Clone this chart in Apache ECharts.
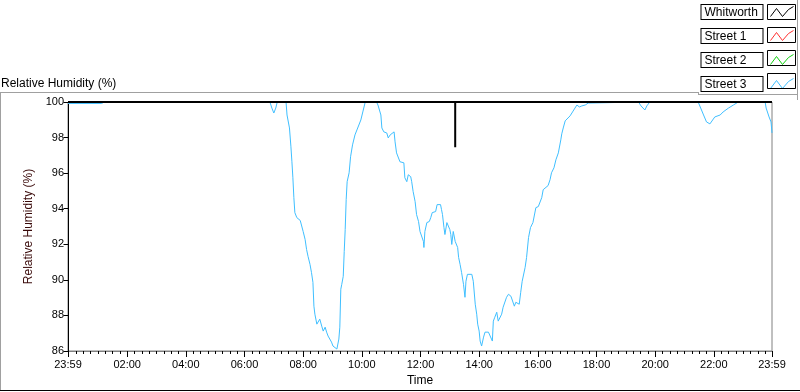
<!DOCTYPE html>
<html>
<head>
<meta charset="utf-8">
<script src="https://cdn.jsdelivr.net/npm/echarts@6/dist/echarts.min.js"></script>
<style>
  html, body { margin: 0; padding: 0; background: #fff; }
  #chart { width: 800px; height: 392px; }
</style>
</head>
<body>
<div id="chart"></div>
<script>
// first entry of every time list is 23:59 of the previous day
const seriesNames = ["Whitworth", "Street 1", "Street 2", "Street 3"];
const seriesColors = ["#000000", "#ff3030", "#10d010", "#3fbfff"];
const xTickLabels = ["23:59", "02:00", "04:00", "06:00", "08:00", "10:00", "12:00",
  "14:00", "16:00", "18:00", "20:00", "22:00", "23:59"];

const whitworthTime = ["23:59", "13:11", "13:11", "13:11", "13:11", "23:59"];
const whitworthRH = [100, 100, 97.45, 98.7, 100, 100];

const street1Time = [];
const street1RH = [];
const street2Time = [];
const street2RH = [];

const street3Time = ["23:59", "01:08", "01:13", "06:52", "06:56", "07:00", "07:04", "07:07",
  "07:25", "07:27", "07:32", "07:35", "07:37", "07:39", "07:41", "07:43", "07:47", "07:50",
  "07:54", "07:58", "08:00", "08:04", "08:07", "08:10", "08:14", "08:17", "08:20", "08:22",
  "08:24", "08:28", "08:30", "08:34", "08:38", "08:41", "08:45", "08:48", "08:51", "08:55",
  "08:58", "09:01", "09:05", "09:09", "09:11", "09:13", "09:15", "09:17", "09:19", "09:22",
  "09:24", "09:26", "09:28", "09:30", "09:34", "09:37", "09:41", "09:46", "09:50", "09:54",
  "09:58", "10:02", "10:07", "10:30", "10:33", "10:39", "10:41", "10:45", "10:51", "10:54",
  "10:58", "11:01", "11:06", "11:08", "11:11", "11:14", "11:18", "11:22", "11:26", "11:28",
  "11:32", "11:35", "11:40", "11:42", "11:45", "11:49", "11:52", "11:56", "11:59", "12:02",
  "12:06", "12:07", "12:09", "12:13", "12:18", "12:21", "12:24", "12:28", "12:31", "12:34",
  "12:38", "12:41", "12:43", "12:45", "12:48", "12:50", "12:54", "12:57", "13:00", "13:02",
  "13:04", "13:07", "13:11", "13:14", "13:16", "13:18", "13:21", "13:24", "13:28", "13:31",
  "13:33", "13:36", "13:40", "13:45", "13:48", "13:52", "13:55", "13:57", "14:00", "14:02",
  "14:05", "14:09", "14:12", "14:15", "14:19", "14:22", "14:27", "14:29", "14:32", "14:36",
  "14:39", "14:43", "14:46", "14:49", "14:53", "14:56", "15:00", "15:05", "15:09", "15:12",
  "15:15", "15:18", "15:22", "15:25", "15:28", "15:32", "15:34", "15:37", "15:41", "15:45",
  "15:50", "15:54", "15:56", "16:01", "16:05", "16:08", "16:11", "16:15", "16:21", "16:25",
  "16:28", "16:33", "16:37", "16:42", "16:47", "16:49", "16:52", "16:56", "17:00", "17:06",
  "17:11", "17:16", "17:20", "17:25", "17:30", "17:33", "17:37", "17:43", "17:47", "19:26",
  "19:31", "19:39", "19:43", "19:49", "21:28", "21:39", "21:45", "21:52", "21:56", "22:02",
  "22:13", "22:19", "22:30", "22:40", "22:50", "23:45", "23:47", "23:53", "23:57", "23:59"];
const street3RH = [99.92, 99.92, 100, 100, 99.66, 99.38, 99.66, 100,
  100, 99.27, 98.54, 97.48, 96.64, 95.74, 94.62, 93.78, 93.5, 93.45,
  93.34, 93.34, 92.72, 92.27, 91.71, 91.32, 90.87, 90.42, 89.86, 88.52,
  88.07, 87.51, 87.62, 87.79, 87.4, 87.12, 87.34, 87.06, 86.84, 86.95,
  86.5, 86.28, 86.39, 86.11, 86.22, 86.67, 87.34, 89.47, 89.75, 90.2,
  91.6, 92.83, 94.51, 95.52, 96.02, 96.92, 97.59, 98.15, 98.43, 98.54,
  98.99, 99.44, 100, 100, 99.83, 99.27, 98.54, 98.32, 98.26, 97.98,
  98.15, 98.26, 98.32, 97.76, 97.14, 97.03, 96.64, 96.75, 96.58, 95.74,
  95.52, 95.91, 95.8, 95.52, 94.96, 94.4, 93.67, 93.28, 92.72, 92.66,
  92.16, 91.82, 92.72, 93.22, 93.28, 93.5, 93.78, 93.78, 93.84, 94.23,
  94.34, 94.23, 93.95, 93.67, 92.94, 92.55, 93.22, 93.11, 92.83, 92.55,
  91.99, 92.72, 92.16, 92.27, 91.82, 91.26, 90.87, 90.42, 89.75, 89.02,
  89.92, 90.31, 90.2, 90.31, 89.92, 88.63, 88.07, 87.51, 87.12, 86.56,
  86.28, 86.78, 87.06, 87.12, 87.06, 86.95, 86.56, 87.68, 87.9, 88.18,
  87.68, 87.62, 88.07, 88.46, 88.52, 89.02, 89.19, 89.08, 89.19, 88.52,
  88.74, 88.8, 88.63, 89.3, 89.92, 90.03, 90.7, 91.26, 92.38, 92.94,
  93.22, 93.28, 94.06, 94.12, 94.23, 94.62, 95.07, 95.18, 95.3, 95.63,
  96.02, 96.3, 96.75, 97.14, 97.87, 98.21, 98.54, 98.94, 99.05, 99.22,
  99.44, 99.66, 99.83, 99.72, 99.78, 99.72, 99.83, 99.94, 100, 100,
  99.78, 99.55, 99.78, 100, 100, 99.27, 98.88, 98.77, 98.88, 99.16,
  99.27, 99.44, 99.66, 99.83, 100, 100, 99.66, 99.16, 98.88, 98.26];

const FONT = "Liberation Sans";

function toMin(s, first) {
  const [h, m] = s.split(":").map(Number);
  let v = h * 60 + m;
  if (first && v > 720) v -= 1440;
  return v;
}
const pairs = (t, v) => t.map((s, i) => [toMin(s, i === 0), v[i]]);

const majorTicks = xTickLabels.map((s, i) => toMin(s, i === 0));
const minorTicks = [];
for (let m = 15; m < 1439; m += 15) if (m % 120) minorTicks.push(m);
const X_MIN = majorTicks[0], X_MAX = majorTicks[majorTicks.length - 1];

const lineSeries = (i, data, width, z) => ({
  name: seriesNames[i], type: "line", data, symbol: "none", showSymbol: false,
  lineStyle: { color: seriesColors[i], width, join: "bevel" },
  itemStyle: { color: seriesColors[i] }, z, clip: false
});

const frame = (x1, y1, x2, y2, c) => ({
  type: "line", silent: true, shape: { x1, y1, x2, y2 },
  style: { stroke: c, lineWidth: 1 }
});

const chart = echarts.init(document.getElementById("chart"));
chart.setOption({
  animation: false,
  backgroundColor: "#fff",
  textStyle: { fontFamily: FONT },
  title: {
    text: "Relative Humidity (%)", left: 1, top: 78, padding: 0,
    textStyle: { fontFamily: FONT, fontSize: 12, fontWeight: "normal", color: "#000" }
  },
  legend: {
    data: seriesNames.map((name, i) => ({
      name,
      itemStyle: { color: "rgba(0,0,0,0)", borderColor: seriesColors[i], borderWidth: 1 }
    })),
    orient: "vertical", right: 4, top: 4, padding: 0,
    itemGap: 8, align: "right", itemWidth: 28, itemHeight: 15, selectedMode: false,
    icon: "path://M0,0M28,15M3,12L9,4L15,12L21,5L26,2",
    symbolKeepAspect: false,
    formatter: (name) => "{a|" + name + "}",
    textStyle: {
      fontFamily: FONT, fontSize: 12, color: "#000",
      borderColor: "#000", borderWidth: 1, padding: [1, 3, 0, 3], backgroundColor: "#fff",
      rich: { a: { width: 55, height: 13, lineHeight: 13, align: "left", fontFamily: FONT, fontSize: 12, color: "#000" } }
    }
  },
  grid: {
    left: 68, right: 28, top: 102, bottom: 40, show: true,
    backgroundColor: "#fff", borderColor: "#808080", borderWidth: 1
  },
  xAxis: [{
    type: "value", min: X_MIN, max: X_MAX,
    name: "Time", nameLocation: "middle", nameGap: 24,
    nameTextStyle: { fontFamily: FONT, fontSize: 12, color: "#000" },
    axisLine: { show: true, lineStyle: { color: "#808080" } },
    splitLine: { show: false },
    axisTick: { show: true, customValues: majorTicks, length: 6, lineStyle: { color: "#000" } },
    axisLabel: {
      customValues: majorTicks, margin: 8, fontFamily: FONT, fontSize: 11, color: "#000",
      formatter: (v) => xTickLabels[majorTicks.indexOf(v)] || ""
    }
  }, {
    type: "value", min: X_MIN, max: X_MAX, position: "bottom",
    axisLine: { show: false }, splitLine: { show: false },
    axisTick: { show: true, customValues: minorTicks, length: 3, lineStyle: { color: "#000" } },
    axisLabel: { show: false }
  }],
  yAxis: {
    type: "value", min: 86, max: 100, interval: 2,
    name: "Relative Humidity (%)", nameLocation: "middle", nameGap: 30, nameRotate: 90,
    nameTextStyle: { fontFamily: FONT, fontSize: 12, color: "#3a0a0a" },
    axisLine: { show: true, lineStyle: { color: "#000" } },
    axisTick: { show: true, length: 5, lineStyle: { color: "#000" } },
    splitLine: { show: false },
    axisLabel: { margin: 4, fontFamily: FONT, fontSize: 11, color: "#000" }
  },
  series: [
    lineSeries(0, pairs(whitworthTime, whitworthRH), 2, 5),
    lineSeries(1, pairs(street1Time, street1RH), 1, 3),
    lineSeries(2, pairs(street2Time, street2RH), 1, 3),
    lineSeries(3, pairs(street3Time, street3RH), 1, 2)
  ],
  graphic: [
    frame(0, 92.5, 698, 92.5, "#a0a0a0"),
    frame(698.5, 92, 698.5, 95, "#a0a0a0"),
    frame(698, 94.5, 798, 94.5, "#a0a0a0"),
    frame(797.5, 0, 797.5, 100, "#a0a0a0"),
    frame(0.5, 92, 0.5, 390, "#a0a0a0"),
    frame(0, 390.5, 800, 390.5, "#000"),
    ...[0, 1, 2, 3].map(i => ({
      type: "rect", silent: true, z: 10,
      shape: { x: 767.5, y: 4.5 + i * 23, width: 28, height: 15 },
      style: { fill: "none", stroke: "#000", lineWidth: 1 }
    }))
  ]
});
</script>
</body>
</html>
